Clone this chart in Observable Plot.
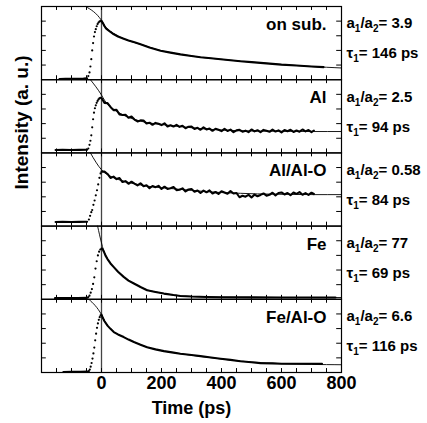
<!DOCTYPE html>
<html><head><meta charset="utf-8">
<script src="https://cdn.jsdelivr.net/npm/d3@7"></script>
<script src="https://cdn.jsdelivr.net/npm/@observablehq/plot@0.6"></script>
<style>body{margin:0;background:#fff}</style>
</head><body><div id="chart"></div>
<script>
// ---- categories and labels ----
const panels = ["on sub.", "Al", "Al/Al-O", "Fe", "Fe/Al-O"];
const ratioLabels = ["a₁/a₂= 3.9", "a₁/a₂= 2.5", "a₁/a₂= 0.58", "a₁/a₂= 77", "a₁/a₂= 6.6"];
const tauLabels = ["τ₁= 146 ps", "τ₁= 94 ps", "τ₁= 84 ps", "τ₁= 69 ps", "τ₁= 116 ps"];
const xTickLabels = [0, 200, 400, 600, 800];
const xTickMarks = [-150,-100,-50,0,50,100,150,200,250,300,350,400,450,500,550,600,650,700,750];
const yTickMarks = [1, 2, 3, 4];

// ---- measured traces (time in ps, intensity in a.u.) ----
const onSubT = [-140,-120,-100,-80,-60,-48,-44,-40,-37,-34,-31,-28,-25,-22,-19,-16,-13,-10,-7,-4,0,5,10,15,20,30,40,55,74,90,110,130,160,197,230,263,300,330,365,397,430,463,500,530,570,600,650,700,740];
const onSubV = [0.05,0.06,0.06,0.07,0.08,0.1,0.25,0.5,0.9,1.4,2.0,2.5,2.95,3.25,3.45,3.65,3.8,3.9,3.97,4.0,4.02,3.85,3.65,3.5,3.42,3.26,3.12,2.95,2.8,2.68,2.55,2.42,2.2,1.98,1.85,1.73,1.62,1.53,1.46,1.4,1.33,1.26,1.2,1.15,1.08,1.03,0.97,0.9,0.86];

const alT = [-153,-130,-100,-75,-48,-44,-40,-37,-34,-31,-28,-25,-22,-19,-16,-13,-10,-7,-4,
  0,10,20,30,40,50,60,70,80,90,100,110,120,130,140,150,160,170,180,190,200,210,220,230,240,250,260,270,280,290,300,310,320,330,340,350,360,370,380,390,400,410,420,430,440,450,460,470,480,490,500,510,520,530,540,550,560,570,580,590,600,610,620,630,640,650,660,670,680,690,700,708];
const alV = [0.2,0.21,0.2,0.21,0.22,0.3,0.55,0.83,1.2,1.75,2.3,2.75,3.05,3.25,3.42,3.55,3.65,3.72,3.76,
  3.75,3.42,3.4,3.14,2.92,2.94,2.63,2.59,2.6,2.4,2.48,2.28,2.15,2.22,2.21,2.01,2.06,1.92,2.05,1.99,1.9,2.02,1.81,1.89,1.8,1.92,1.78,1.85,1.68,1.79,1.8,1.64,1.71,1.58,1.74,1.6,1.66,1.51,1.65,1.58,1.49,1.64,1.5,1.59,1.42,1.54,1.58,1.45,1.52,1.42,1.6,1.47,1.55,1.41,1.57,1.51,1.44,1.59,1.46,1.54,1.4,1.56,1.48,1.58,1.43,1.53,1.45,1.6,1.47,1.56,1.42,1.53];

const alAlOT = [-153,-130,-100,-75,-48,-42,-38,-34,-31,-27,-23,-19,-15,-11,-7,-3,
  0,10,20,30,40,50,60,70,80,90,100,110,120,130,140,150,160,170,180,190,200,210,220,230,240,250,260,270,280,290,300,310,320,330,340,350,360,370,380,390,400,410,420,430,440,450,460,470,480,490,500,510,520,530,540,550,560,570,580,590,600,610,620,630,640,650,660,670,680,690,700,708];
const alAlOV = [0.28,0.29,0.28,0.29,0.3,0.45,0.7,0.95,1.1,1.45,1.75,2.1,2.45,2.85,3.3,3.6,
  3.72,3.72,3.56,3.29,3.38,3.21,3.28,3.01,3.07,2.89,3.03,2.9,2.78,2.92,2.73,2.79,2.59,2.74,2.66,2.75,2.54,2.69,2.54,2.59,2.67,2.46,2.48,2.58,2.37,2.5,2.53,2.35,2.43,2.26,2.42,2.31,2.44,2.23,2.33,2.2,2.38,2.3,2.21,2.39,2.23,2.26,1.97,2.07,2.01,2.14,1.96,2.15,2.04,2.13,2.23,2.08,2.14,2.28,2.1,2.26,2.3,2.16,2.26,2.11,2.29,2.2,2.32,2.14,2.25,2.13,2.28,2.19];

const feT = [-155,-120,-80,-48,-44,-40,-36,-32,-28,-24,-20,-16,-12,-8,-4,0,4,8,13,20,30,41,55,74,90,108,130,152,180,208,240,263,300,352,400,500,600,700,780];
const feV = [0.08,0.08,0.09,0.1,0.15,0.25,0.45,0.7,1.05,1.5,2.1,2.6,3.0,3.25,3.4,3.47,3.42,3.25,3.0,2.75,2.45,2.2,1.88,1.53,1.28,1.08,0.84,0.62,0.5,0.39,0.29,0.23,0.19,0.16,0.14,0.13,0.12,0.12,0.12];

const feAlOT = [-127,-100,-70,-45,-42,-39,-36,-33,-30,-27,-24,-21,-18,-15,-12,-9,-6,-3,0,5,10,20,30,41,55,74,90,108,130,152,180,208,240,263,300,330,365,397,430,463,500,530,570,600,650,700,735];
const feAlOV = [0.03,0.04,0.05,0.06,0.1,0.2,0.4,0.65,0.95,1.3,1.7,2.2,2.65,3.05,3.35,3.6,3.78,3.9,3.95,3.7,3.5,3.2,2.98,2.76,2.6,2.42,2.25,2.08,1.9,1.73,1.58,1.46,1.36,1.28,1.19,1.12,1.03,0.94,0.86,0.77,0.7,0.64,0.62,0.6,0.6,0.6,0.59];

// ---- fitted curves ----
const onSubFitT = [-53,0,10,20,30,50,74,100,130,160,197,230,263,300,330,365,397,430,463,500,550,600,650,700,750,800];
const onSubFitV = [5.0,4.05,3.72,3.47,3.3,3.04,2.8,2.6,2.42,2.22,1.99,1.85,1.73,1.62,1.53,1.46,1.4,1.33,1.27,1.2,1.12,1.03,0.97,0.9,0.85,0.8];
const alFitT = [-37,0,10,20,41,74,108,152,200,241,300,352,400,463,520,574,650,708,800];
const alFitV = [5.0,3.95,3.6,3.32,2.97,2.57,2.3,2.07,1.94,1.84,1.72,1.62,1.56,1.51,1.49,1.48,1.47,1.46,1.46];
const alAlOFitT = [-37,0,10,19,41,74,108,152,200,241,300,352,400,463,520,574,650,708,800];
const alAlOFitV = [5.0,3.85,3.65,3.53,3.3,3.07,2.9,2.73,2.62,2.55,2.44,2.35,2.29,2.24,2.2,2.18,2.16,2.15,2.15];
const feFitT = [-13,0,6,13,20,30,41,55,74,90,108,130,152,180,208,240,263,300,352,400,500,600,700,800];
const feFitV = [5.0,3.85,3.4,3.05,2.75,2.45,2.2,1.88,1.53,1.28,1.08,0.84,0.64,0.5,0.39,0.29,0.24,0.19,0.16,0.14,0.13,0.12,0.12,0.12];
const feAlOFitT = [-42,0,10,20,30,41,55,74,90,108,130,152,180,208,240,263,300,330,365,397,430,463,500,550,600,650,700,750,800];
const feAlOFitV = [5.0,3.95,3.55,3.22,2.98,2.76,2.6,2.42,2.25,2.08,1.9,1.73,1.58,1.46,1.36,1.28,1.18,1.1,1.01,0.93,0.85,0.78,0.71,0.65,0.6,0.57,0.55,0.54,0.53];

// ---- tables for Plot ----
const dataT = [onSubT, alT, alAlOT, feT, feAlOT];
const dataV = [onSubV, alV, alAlOV, feV, feAlOV];
const fitT = [onSubFitT, alFitT, alAlOFitT, feFitT, feAlOFitT];
const fitV = [onSubFitV, alFitV, alAlOFitV, feFitV, feAlOFitV];

const points = panels.flatMap((p, k) => dataT[k].map((t, i) => ({
  panel: p, t, v: dataV[k][i], seg: t <= -45 ? "base" : t < 0 ? "rise" : "decay"
})));
const fits = panels.flatMap((p, k) => fitT[k].map((t, i) => ({panel: p, t, v: fitV[k][i]})));
const labels = panels.map((p, k) => ({panel: p, name: p, ratio: ratioLabels[k], tau: tauLabels[k]}));

const chart = Plot.plot({
  width: 427,
  height: 423,
  marginTop: 6,
  marginBottom: 51,
  marginLeft: 41,
  marginRight: 86,
  style: {fontFamily: "'Liberation Sans', Arial, sans-serif", fontWeight: "bold", fontSize: "18px", background: "white", color: "black"},
  x: {domain: [-200, 800], ticks: xTickLabels, tickSize: 0, tickPadding: 4, label: null, tickFormat: d => String(d)},
  y: {domain: [0, 5], axis: null},
  fy: {domain: panels, padding: 0, axis: null, label: null, round: false},
  marks: [
    Plot.ruleX([0], {stroke: "#444", strokeWidth: 1.3}),
    Plot.line(fits, {x: "t", y: "v", fy: "panel", stroke: "black", strokeWidth: 0.9, curve: "monotone-x"}),
    Plot.line(points.filter(d => d.seg !== "rise"), {x: "t", y: "v", fy: "panel", z: "seg", stroke: "black", strokeWidth: 2.1}),
    Plot.dot(points.filter(d => d.seg === "rise"), {x: "t", y: "v", fy: "panel", r: 1.1, fill: "black"}),
    Plot.ruleX(xTickMarks, {y1: 0, y2: 0.27, stroke: "black"}),
    Plot.ruleX(xTickMarks, {y1: 4.73, y2: 5, stroke: "black"}),
    Plot.ruleY(yTickMarks, {x1: -200, x2: -184, stroke: "black"}),
    Plot.ruleY(yTickMarks, {x1: 784, x2: 800, stroke: "black"}),
    Plot.frame({stroke: "black", strokeWidth: 1.2}),
    Plot.text(labels, {fy: "panel", text: "name", frameAnchor: "top-right", dx: -15, dy: 18, fontSize: 17, textAnchor: "end", lineAnchor: "middle"}),
    Plot.text(labels, {fy: "panel", text: "ratio", frameAnchor: "top-right", dx: 5, dy: 17, fontSize: 15, textAnchor: "start", lineAnchor: "middle"}),
    Plot.text(labels, {fy: "panel", text: "tau", frameAnchor: "top-right", dx: 5, dy: 47, fontSize: 15, textAnchor: "start", lineAnchor: "middle"}),
    Plot.text(labels.filter(d => d.panel === "Fe/Al-O"), {fy: "panel", text: () => "Time (ps)", frameAnchor: "bottom", dy: 36, fontSize: 18, lineAnchor: "middle"}),
    Plot.text(labels.filter(d => d.panel === "Al/Al-O"), {fy: "panel", text: () => "Intensity (a. u.)", frameAnchor: "left", dx: -20, rotate: -90, fontSize: 19, lineAnchor: "middle"})
  ]
});

// render subscript digits as real subscripts
chart.querySelectorAll("text").forEach(el => {
  const nodes = el.querySelector("tspan") ? Array.from(el.querySelectorAll("tspan")) : [el];
  nodes.forEach(node => {
    const s = node.textContent;
    if (!/[₁₂]/.test(s)) return;
    node.textContent = "";
    let shifted = false;
    s.split(/([₁₂])/).filter(Boolean).forEach(part => {
      const ts = document.createElementNS("http://www.w3.org/2000/svg", "tspan");
      if (part === "₁" || part === "₂") {
        ts.textContent = part === "₁" ? "1" : "2";
        ts.setAttribute("font-size", "10");
        ts.setAttribute("dy", "4");
        shifted = true;
      } else {
        ts.textContent = part;
        if (shifted) { ts.setAttribute("dy", "-4"); shifted = false; }
      }
      node.appendChild(ts);
    });
  });
});

document.getElementById("chart").appendChild(chart);
</script></body></html>
